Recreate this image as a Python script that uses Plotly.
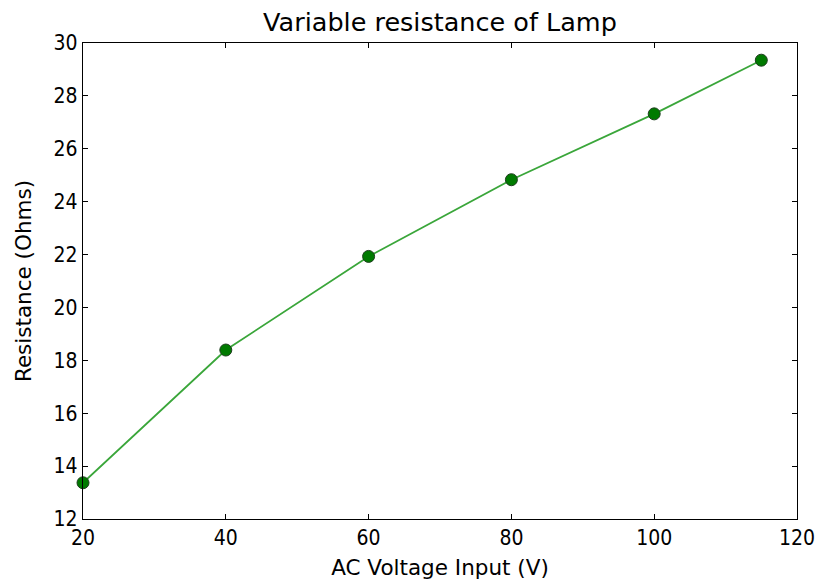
import plotly.graph_objects as go

voltage = [20, 40, 60, 80, 100, 115]
resistance = [13.37, 18.39, 21.93, 24.83, 27.32, 29.35]

x_ticks = [20, 40, 60, 80, 100, 120]
y_ticks = [12, 14, 16, 18, 20, 22, 24, 26, 28, 30]

fig = go.Figure()
fig.add_trace(go.Scatter(
    x=voltage, y=resistance, mode="lines+markers",
    line=dict(color="#3aa63a", width=1.8),
    marker=dict(color="#007a00", size=12, line=dict(color="#1f3f1f", width=1)),
    cliponaxis=False, showlegend=False,
))

font = "DejaVu Sans, sans-serif"
tick_font = "DejaVu Sans Condensed, Liberation Sans, sans-serif"
axis_common = dict(
    showgrid=False, zeroline=False, showline=True, linecolor="black", linewidth=1.3,
    mirror="ticks", ticks="inside", ticklen=5, tickwidth=1, tickcolor="black",
    tickfont=dict(family=tick_font, size=21, color="black"),
    automargin=False,
)
fig.update_xaxes(range=[20, 120], tickvals=x_ticks,
                 title=dict(text="AC Voltage Input (V)", font=dict(family=font, size=21.5, color="black"), standoff=10),
                 **axis_common)
fig.update_yaxes(range=[12, 30], tickvals=y_ticks,
                 title=dict(text="Resistance (Ohms)", font=dict(family=font, size=21.5, color="black"), standoff=16),
                 **axis_common)
fig.update_layout(
    width=817, height=586, autosize=False,
    margin=dict(l=83, r=20, t=43, b=67),
    plot_bgcolor="white", paper_bgcolor="white",
    title=dict(text="Variable resistance of Lamp", x=0.5, xref="paper", xanchor="center",
               y=0.9625, yref="container", yanchor="middle",
               font=dict(family=font, size=25.5, color="black")),
)
fig.write_html("out.html")
